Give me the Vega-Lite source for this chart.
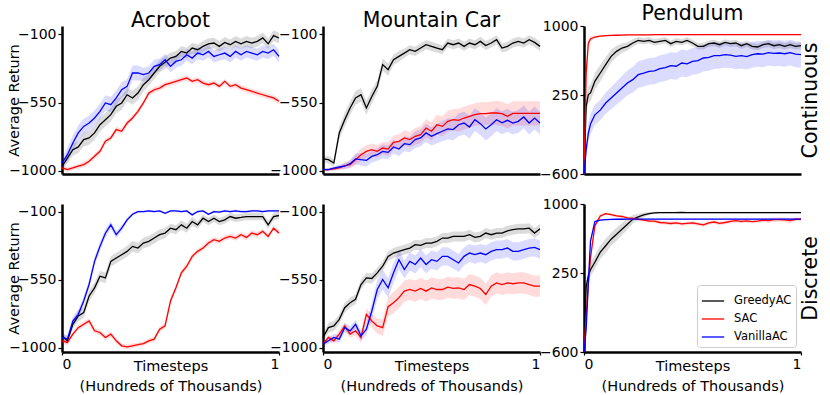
{
"$schema":"https://vega.github.io/schema/vega-lite/v6.json",
"padding":{"left":6,"top":3,"right":4,"bottom":4},
"columns":3,
"spacing":{"row":30,"column":44},
"bounds":"flush",
"resolve":{"scale":{"color":"independent"},"legend":{"color":"independent"}},
"config":{"view":{"stroke":null},"font":"DejaVu Sans",
 "axis":{"grid":false,"domainColor":"#000000","domainWidth":2.5,"tickColor":"#000000","tickWidth":1.2,"tickSize":4,"labelFontSize":14,"labelColor":"#000000","titleFontSize":14.5,"titleColor":"#000000","titleFontWeight":"normal","labelPadding":2,"labelExpr":"replace(datum.label,'-','\u2212')"},
 "title":{"fontSize":20.5,"fontWeight":"normal","offset":-5,"color":"#000000"},
 "line":{"strokeWidth":1.3}},
"datasets":{
"ac":[
{"x":0,"G":-969,"g":30,"S":-980,"s":15,"V":-948,"v":40},
{"x":0.025,"G":-915,"g":35,"S":-991,"s":15,"V":-893,"v":45},
{"x":0.05,"G":-860,"g":40,"S":-980,"s":15,"V":-816,"v":50},
{"x":0.075,"G":-842,"g":40,"S":-969,"s":15,"V":-750,"v":50},
{"x":0.1,"G":-794,"g":45,"S":-958,"s":18,"V":-707,"v":50},
{"x":0.125,"G":-783,"g":45,"S":-936,"s":18,"V":-685,"v":50},
{"x":0.15,"G":-750,"g":45,"S":-904,"s":18,"V":-652,"v":50},
{"x":0.175,"G":-696,"g":45,"S":-871,"s":18,"V":-608,"v":50},
{"x":0.2,"G":-663,"g":45,"S":-805,"s":18,"V":-553,"v":50},
{"x":0.225,"G":-630,"g":45,"S":-783,"s":18,"V":-564,"v":50},
{"x":0.25,"G":-575,"g":45,"S":-728,"s":18,"V":-520,"v":50},
{"x":0.275,"G":-553,"g":45,"S":-739,"s":18,"V":-466,"v":50},
{"x":0.3,"G":-499,"g":45,"S":-685,"s":18,"V":-444,"v":50},
{"x":0.325,"G":-520,"g":45,"S":-652,"s":18,"V":-356,"v":50},
{"x":0.35,"G":-488,"g":45,"S":-608,"s":18,"V":-356,"v":50},
{"x":0.375,"G":-433,"g":45,"S":-553,"s":18,"V":-367,"v":45},
{"x":0.4,"G":-400,"g":40,"S":-488,"s":18,"V":-356,"v":45},
{"x":0.425,"G":-356,"g":40,"S":-466,"s":18,"V":-312,"v":45},
{"x":0.45,"G":-312,"g":40,"S":-455,"s":18,"V":-301,"v":40},
{"x":0.475,"G":-286,"g":40,"S":-433,"s":18,"V":-269,"v":40},
{"x":0.5,"G":-258,"g":35,"S":-422,"s":18,"V":-312,"v":40},
{"x":0.525,"G":-247,"g":35,"S":-411,"s":18,"V":-280,"v":40},
{"x":0.55,"G":-214,"g":35,"S":-400,"s":18,"V":-269,"v":40},
{"x":0.575,"G":-225,"g":35,"S":-389,"s":18,"V":-236,"v":40},
{"x":0.6,"G":-192,"g":35,"S":-411,"s":18,"V":-258,"v":40},
{"x":0.625,"G":-203,"g":35,"S":-400,"s":18,"V":-225,"v":40},
{"x":0.65,"G":-181,"g":35,"S":-422,"s":18,"V":-236,"v":40},
{"x":0.675,"G":-164,"g":35,"S":-433,"s":18,"V":-214,"v":40},
{"x":0.7,"G":-159,"g":35,"S":-422,"s":18,"V":-247,"v":40},
{"x":0.725,"G":-181,"g":35,"S":-444,"s":18,"V":-236,"v":40},
{"x":0.75,"G":-155,"g":35,"S":-411,"s":18,"V":-225,"v":40},
{"x":0.775,"G":-170,"g":35,"S":-444,"s":18,"V":-247,"v":40},
{"x":0.8,"G":-148,"g":35,"S":-433,"s":18,"V":-214,"v":40},
{"x":0.825,"G":-164,"g":35,"S":-455,"s":18,"V":-236,"v":40},
{"x":0.85,"G":-148,"g":35,"S":-466,"s":18,"V":-214,"v":40},
{"x":0.875,"G":-159,"g":35,"S":-477,"s":18,"V":-225,"v":40},
{"x":0.9,"G":-148,"g":35,"S":-488,"s":18,"V":-236,"v":40},
{"x":0.925,"G":-125,"g":35,"S":-499,"s":18,"V":-214,"v":40},
{"x":0.95,"G":-164,"g":35,"S":-510,"s":18,"V":-225,"v":40},
{"x":0.975,"G":-110,"g":35,"S":-520,"s":18,"V":-203,"v":40},
{"x":1,"G":-126,"g":35,"S":-542,"s":18,"V":-247,"v":40}
],
"mc":[
{"x":0,"G":-921,"g":20,"S":-991,"s":10,"V":-991,"v":10},
{"x":0.025,"G":-926,"g":25,"S":-991,"s":10,"V":-991,"v":10},
{"x":0.05,"G":-948,"g":25,"S":-987,"s":12,"V":-982,"v":12},
{"x":0.075,"G":-750,"g":40,"S":-980,"s":15,"V":-974,"v":15},
{"x":0.1,"G":-663,"g":45,"S":-965,"s":20,"V":-969,"v":20},
{"x":0.125,"G":-586,"g":45,"S":-958,"s":25,"V":-952,"v":25},
{"x":0.15,"G":-520,"g":45,"S":-926,"s":35,"V":-921,"v":35},
{"x":0.175,"G":-499,"g":45,"S":-893,"s":40,"V":-926,"v":40},
{"x":0.2,"G":-586,"g":45,"S":-871,"s":40,"V":-930,"v":40},
{"x":0.225,"G":-510,"g":45,"S":-860,"s":40,"V":-904,"v":40},
{"x":0.25,"G":-444,"g":40,"S":-871,"s":40,"V":-893,"v":40},
{"x":0.275,"G":-301,"g":40,"S":-849,"s":40,"V":-871,"v":45},
{"x":0.3,"G":-334,"g":40,"S":-856,"s":45,"V":-878,"v":45},
{"x":0.325,"G":-269,"g":35,"S":-812,"s":45,"V":-842,"v":45},
{"x":0.35,"G":-247,"g":35,"S":-805,"s":45,"V":-856,"v":45},
{"x":0.375,"G":-225,"g":30,"S":-783,"s":50,"V":-821,"v":50},
{"x":0.4,"G":-203,"g":30,"S":-794,"s":50,"V":-827,"v":50},
{"x":0.425,"G":-214,"g":30,"S":-772,"s":55,"V":-794,"v":55},
{"x":0.45,"G":-192,"g":30,"S":-761,"s":55,"V":-783,"v":55},
{"x":0.475,"G":-170,"g":30,"S":-718,"s":60,"V":-750,"v":60},
{"x":0.5,"G":-181,"g":30,"S":-739,"s":60,"V":-772,"v":60},
{"x":0.525,"G":-192,"g":30,"S":-696,"s":65,"V":-755,"v":65},
{"x":0.55,"G":-203,"g":30,"S":-707,"s":65,"V":-739,"v":65},
{"x":0.575,"G":-159,"g":30,"S":-674,"s":70,"V":-724,"v":70},
{"x":0.6,"G":-170,"g":30,"S":-663,"s":70,"V":-728,"v":70},
{"x":0.625,"G":-159,"g":30,"S":-667,"s":75,"V":-696,"v":75},
{"x":0.65,"G":-181,"g":30,"S":-652,"s":75,"V":-685,"v":75},
{"x":0.675,"G":-159,"g":30,"S":-641,"s":75,"V":-711,"v":75},
{"x":0.7,"G":-170,"g":30,"S":-630,"s":75,"V":-663,"v":75},
{"x":0.725,"G":-148,"g":30,"S":-623,"s":75,"V":-689,"v":75},
{"x":0.75,"G":-175,"g":30,"S":-623,"s":75,"V":-724,"v":75},
{"x":0.775,"G":-159,"g":30,"S":-619,"s":75,"V":-696,"v":75},
{"x":0.8,"G":-137,"g":30,"S":-619,"s":80,"V":-663,"v":75},
{"x":0.825,"G":-192,"g":30,"S":-623,"s":80,"V":-683,"v":75},
{"x":0.85,"G":-181,"g":30,"S":-641,"s":80,"V":-667,"v":75},
{"x":0.875,"G":-159,"g":30,"S":-621,"s":80,"V":-685,"v":75},
{"x":0.9,"G":-148,"g":30,"S":-621,"s":80,"V":-674,"v":75},
{"x":0.925,"G":-159,"g":30,"S":-621,"s":80,"V":-645,"v":75},
{"x":0.95,"G":-137,"g":30,"S":-621,"s":80,"V":-685,"v":75},
{"x":0.975,"G":-155,"g":30,"S":-621,"s":80,"V":-652,"v":75},
{"x":1,"G":-181,"g":30,"S":-621,"s":80,"V":-685,"v":75}
],
"pc":[
{"x":0,"G":-600,"g":20,"S":-600,"s":20,"V":-600,"v":20},
{"x":0.01,"G":131,"g":90,"S":492,"s":60,"V":-337,"v":80},
{"x":0.02,"G":258,"g":90,"S":816,"s":40,"V":-157,"v":100},
{"x":0.03,"G":276,"g":90,"S":860,"s":30,"V":-60,"v":110},
{"x":0.05,"G":402,"g":90,"S":881,"s":15,"V":40,"v":110},
{"x":0.075,"G":492,"g":90,"S":890,"s":10,"V":90,"v":110},
{"x":0.1,"G":582,"g":80,"S":895,"s":10,"V":167,"v":115},
{"x":0.125,"G":672,"g":70,"S":898,"s":8,"V":221,"v":120},
{"x":0.15,"G":726,"g":60,"S":900,"s":8,"V":276,"v":125},
{"x":0.175,"G":762,"g":50,"S":902,"s":8,"V":330,"v":130},
{"x":0.2,"G":780,"g":45,"S":903,"s":8,"V":384,"v":135},
{"x":0.225,"G":816,"g":40,"S":904,"s":8,"V":420,"v":140},
{"x":0.25,"G":845,"g":35,"S":905,"s":8,"V":474,"v":145},
{"x":0.275,"G":834,"g":35,"S":905,"s":8,"V":490,"v":145},
{"x":0.3,"G":845,"g":35,"S":905,"s":8,"V":510,"v":145},
{"x":0.325,"G":823,"g":35,"S":906,"s":8,"V":515,"v":145},
{"x":0.35,"G":834,"g":35,"S":906,"s":8,"V":540,"v":145},
{"x":0.375,"G":845,"g":35,"S":906,"s":8,"V":550,"v":145},
{"x":0.4,"G":809,"g":35,"S":906,"s":8,"V":571,"v":145},
{"x":0.425,"G":834,"g":35,"S":906,"s":8,"V":565,"v":145},
{"x":0.45,"G":823,"g":35,"S":906,"s":8,"V":600,"v":145},
{"x":0.475,"G":845,"g":35,"S":906,"s":8,"V":590,"v":145},
{"x":0.5,"G":816,"g":35,"S":906,"s":8,"V":618,"v":145},
{"x":0.525,"G":780,"g":35,"S":906,"s":8,"V":625,"v":145},
{"x":0.55,"G":780,"g":35,"S":907,"s":8,"V":654,"v":145},
{"x":0.575,"G":809,"g":35,"S":907,"s":8,"V":660,"v":145},
{"x":0.6,"G":816,"g":35,"S":907,"s":8,"V":679,"v":145},
{"x":0.625,"G":798,"g":35,"S":907,"s":8,"V":680,"v":140},
{"x":0.65,"G":823,"g":35,"S":907,"s":8,"V":690,"v":140},
{"x":0.675,"G":809,"g":35,"S":907,"s":8,"V":685,"v":140},
{"x":0.7,"G":816,"g":35,"S":907,"s":8,"V":672,"v":140},
{"x":0.725,"G":787,"g":35,"S":907,"s":8,"V":680,"v":140},
{"x":0.75,"G":809,"g":35,"S":907,"s":8,"V":670,"v":140},
{"x":0.775,"G":780,"g":35,"S":907,"s":8,"V":690,"v":140},
{"x":0.8,"G":773,"g":35,"S":907,"s":8,"V":700,"v":140},
{"x":0.825,"G":798,"g":35,"S":907,"s":8,"V":695,"v":140},
{"x":0.85,"G":809,"g":35,"S":907,"s":8,"V":712,"v":140},
{"x":0.875,"G":787,"g":35,"S":907,"s":8,"V":705,"v":140},
{"x":0.9,"G":798,"g":35,"S":907,"s":8,"V":708,"v":140},
{"x":0.925,"G":780,"g":35,"S":907,"s":8,"V":700,"v":140},
{"x":0.95,"G":798,"g":35,"S":907,"s":8,"V":712,"v":140},
{"x":0.975,"G":780,"g":35,"S":907,"s":8,"V":695,"v":140},
{"x":1,"G":787,"g":35,"S":907,"s":8,"V":690,"v":140}
],
"ad":[
{"x":0,"G":-921,"g":20,"S":-954,"s":18,"V":-932,"v":25},
{"x":0.025,"G":-954,"g":25,"S":-965,"s":18,"V":-943,"v":25},
{"x":0.05,"G":-845,"g":30,"S":-910,"s":18,"V":-823,"v":30},
{"x":0.075,"G":-790,"g":35,"S":-867,"s":18,"V":-779,"v":30},
{"x":0.1,"G":-768,"g":35,"S":-845,"s":18,"V":-691,"v":30},
{"x":0.125,"G":-658,"g":35,"S":-823,"s":18,"V":-580,"v":30},
{"x":0.15,"G":-604,"g":35,"S":-888,"s":18,"V":-429,"v":30},
{"x":0.175,"G":-527,"g":35,"S":-899,"s":18,"V":-330,"v":30},
{"x":0.2,"G":-538,"g":35,"S":-932,"s":18,"V":-243,"v":30},
{"x":0.225,"G":-429,"g":35,"S":-910,"s":18,"V":-188,"v":25},
{"x":0.25,"G":-407,"g":35,"S":-954,"s":18,"V":-253,"v":25},
{"x":0.275,"G":-385,"g":35,"S":-987,"s":15,"V":-210,"v":20},
{"x":0.3,"G":-363,"g":35,"S":-994,"s":15,"V":-155,"v":15},
{"x":0.325,"G":-330,"g":35,"S":-987,"s":15,"V":-118,"v":10},
{"x":0.35,"G":-341,"g":35,"S":-980,"s":15,"V":-100,"v":8},
{"x":0.375,"G":-308,"g":35,"S":-972,"s":15,"V":-100,"v":8},
{"x":0.4,"G":-297,"g":35,"S":-954,"s":15,"V":-96,"v":8},
{"x":0.425,"G":-275,"g":35,"S":-943,"s":15,"V":-100,"v":8},
{"x":0.45,"G":-253,"g":35,"S":-877,"s":18,"V":-96,"v":8},
{"x":0.475,"G":-242,"g":35,"S":-855,"s":20,"V":-111,"v":8},
{"x":0.5,"G":-210,"g":30,"S":-691,"s":20,"V":-96,"v":8},
{"x":0.525,"G":-220,"g":30,"S":-604,"s":20,"V":-96,"v":8},
{"x":0.55,"G":-188,"g":30,"S":-505,"s":20,"V":-100,"v":8},
{"x":0.575,"G":-210,"g":30,"S":-461,"s":20,"V":-96,"v":8},
{"x":0.6,"G":-166,"g":30,"S":-396,"s":18,"V":-122,"v":8},
{"x":0.625,"G":-188,"g":25,"S":-363,"s":18,"V":-100,"v":8},
{"x":0.65,"G":-144,"g":25,"S":-341,"s":18,"V":-96,"v":8},
{"x":0.675,"G":-166,"g":25,"S":-308,"s":18,"V":-118,"v":8},
{"x":0.7,"G":-144,"g":25,"S":-286,"s":18,"V":-100,"v":8},
{"x":0.725,"G":-166,"g":25,"S":-297,"s":18,"V":-104,"v":8},
{"x":0.75,"G":-155,"g":25,"S":-275,"s":18,"V":-96,"v":8},
{"x":0.775,"G":-133,"g":25,"S":-264,"s":18,"V":-100,"v":8},
{"x":0.8,"G":-144,"g":25,"S":-275,"s":18,"V":-96,"v":8},
{"x":0.825,"G":-139,"g":25,"S":-253,"s":18,"V":-100,"v":8},
{"x":0.85,"G":-133,"g":25,"S":-271,"s":18,"V":-100,"v":8},
{"x":0.875,"G":-133,"g":25,"S":-242,"s":18,"V":-96,"v":8},
{"x":0.9,"G":-133,"g":25,"S":-253,"s":18,"V":-96,"v":8},
{"x":0.925,"G":-133,"g":25,"S":-231,"s":18,"V":-100,"v":8},
{"x":0.95,"G":-188,"g":25,"S":-264,"s":18,"V":-96,"v":8},
{"x":0.975,"G":-133,"g":25,"S":-210,"s":18,"V":-96,"v":8},
{"x":1,"G":-126,"g":25,"S":-242,"s":18,"V":-96,"v":8}
],
"md":[
{"x":0,"G":-932,"g":25,"S":-976,"s":15,"V":-976,"v":15},
{"x":0.025,"G":-867,"g":33,"S":-932,"s":20,"V":-954,"v":20},
{"x":0.05,"G":-856,"g":33,"S":-954,"s":20,"V":-932,"v":25},
{"x":0.075,"G":-812,"g":33,"S":-910,"s":25,"V":-943,"v":25},
{"x":0.1,"G":-735,"g":33,"S":-856,"s":25,"V":-867,"v":30},
{"x":0.125,"G":-702,"g":33,"S":-910,"s":25,"V":-888,"v":30},
{"x":0.15,"G":-680,"g":33,"S":-888,"s":30,"V":-845,"v":30},
{"x":0.175,"G":-582,"g":33,"S":-932,"s":35,"V":-921,"v":35},
{"x":0.2,"G":-538,"g":33,"S":-779,"s":40,"V":-877,"v":40},
{"x":0.225,"G":-542,"g":33,"S":-823,"s":45,"V":-757,"v":55},
{"x":0.25,"G":-505,"g":33,"S":-856,"s":50,"V":-615,"v":65},
{"x":0.275,"G":-461,"g":33,"S":-867,"s":55,"V":-549,"v":65},
{"x":0.3,"G":-396,"g":33,"S":-728,"s":65,"V":-604,"v":65},
{"x":0.325,"G":-374,"g":33,"S":-702,"s":70,"V":-505,"v":65},
{"x":0.35,"G":-363,"g":33,"S":-669,"s":70,"V":-418,"v":65},
{"x":0.375,"G":-352,"g":33,"S":-626,"s":70,"V":-483,"v":60},
{"x":0.4,"G":-341,"g":33,"S":-615,"s":70,"V":-429,"v":60},
{"x":0.425,"G":-319,"g":33,"S":-626,"s":70,"V":-450,"v":60},
{"x":0.45,"G":-323,"g":33,"S":-608,"s":70,"V":-407,"v":60},
{"x":0.475,"G":-308,"g":33,"S":-626,"s":70,"V":-450,"v":60},
{"x":0.5,"G":-308,"g":33,"S":-604,"s":70,"V":-418,"v":60},
{"x":0.525,"G":-297,"g":33,"S":-615,"s":70,"V":-429,"v":60},
{"x":0.55,"G":-275,"g":33,"S":-615,"s":70,"V":-396,"v":60},
{"x":0.575,"G":-275,"g":33,"S":-600,"s":70,"V":-396,"v":60},
{"x":0.6,"G":-264,"g":33,"S":-608,"s":70,"V":-418,"v":60},
{"x":0.625,"G":-264,"g":33,"S":-604,"s":70,"V":-440,"v":60},
{"x":0.65,"G":-264,"g":33,"S":-615,"s":70,"V":-396,"v":60},
{"x":0.675,"G":-253,"g":33,"S":-582,"s":70,"V":-374,"v":60},
{"x":0.7,"G":-271,"g":33,"S":-593,"s":70,"V":-385,"v":60},
{"x":0.725,"G":-264,"g":33,"S":-608,"s":70,"V":-374,"v":60},
{"x":0.75,"G":-242,"g":33,"S":-648,"s":70,"V":-385,"v":60},
{"x":0.775,"G":-253,"g":33,"S":-593,"s":70,"V":-363,"v":60},
{"x":0.8,"G":-242,"g":33,"S":-571,"s":70,"V":-352,"v":60},
{"x":0.825,"G":-242,"g":33,"S":-582,"s":70,"V":-352,"v":60},
{"x":0.85,"G":-227,"g":33,"S":-571,"s":70,"V":-341,"v":60},
{"x":0.875,"G":-220,"g":33,"S":-577,"s":70,"V":-363,"v":60},
{"x":0.9,"G":-214,"g":33,"S":-571,"s":70,"V":-363,"v":60},
{"x":0.925,"G":-214,"g":33,"S":-571,"s":70,"V":-352,"v":60},
{"x":0.95,"G":-210,"g":33,"S":-582,"s":70,"V":-341,"v":60},
{"x":0.975,"G":-242,"g":33,"S":-593,"s":70,"V":-337,"v":60},
{"x":1,"G":-214,"g":33,"S":-593,"s":70,"V":-352,"v":60}
],
"pd":[
{"x":0,"G":-600,"g":20,"S":-600,"s":20,"V":-600,"v":20},
{"x":0.01,"G":101,"g":60,"S":-200,"s":40,"V":-350,"v":30},
{"x":0.02,"G":227,"g":70,"S":137,"s":40,"V":150,"v":30},
{"x":0.03,"G":290,"g":70,"S":420,"s":40,"V":600,"v":20},
{"x":0.05,"G":370,"g":75,"S":764,"s":30,"V":810,"v":10},
{"x":0.075,"G":480,"g":75,"S":871,"s":20,"V":825,"v":10},
{"x":0.1,"G":549,"g":75,"S":896,"s":15,"V":830,"v":8},
{"x":0.125,"G":620,"g":70,"S":885,"s":15,"V":833,"v":8},
{"x":0.15,"G":674,"g":70,"S":871,"s":15,"V":835,"v":8},
{"x":0.175,"G":728,"g":65,"S":865,"s":15,"V":835,"v":8},
{"x":0.2,"G":782,"g":60,"S":850,"s":15,"V":836,"v":8},
{"x":0.225,"G":835,"g":45,"S":845,"s":15,"V":836,"v":8},
{"x":0.25,"G":860,"g":35,"S":835,"s":15,"V":836,"v":8},
{"x":0.275,"G":882,"g":25,"S":825,"s":15,"V":836,"v":8},
{"x":0.3,"G":896,"g":15,"S":815,"s":15,"V":836,"v":8},
{"x":0.325,"G":903,"g":12,"S":815,"s":20,"V":836,"v":8},
{"x":0.35,"G":907,"g":10,"S":800,"s":20,"V":836,"v":8},
{"x":0.375,"G":907,"g":10,"S":795,"s":20,"V":836,"v":8},
{"x":0.4,"G":906,"g":10,"S":789,"s":20,"V":836,"v":8},
{"x":0.425,"G":907,"g":10,"S":795,"s":20,"V":836,"v":8},
{"x":0.45,"G":908,"g":10,"S":785,"s":20,"V":836,"v":8},
{"x":0.475,"G":907,"g":10,"S":790,"s":20,"V":836,"v":8},
{"x":0.5,"G":907,"g":10,"S":795,"s":20,"V":836,"v":8},
{"x":0.525,"G":906,"g":10,"S":785,"s":20,"V":836,"v":8},
{"x":0.55,"G":907,"g":10,"S":774,"s":20,"V":836,"v":8},
{"x":0.575,"G":907,"g":10,"S":795,"s":20,"V":836,"v":8},
{"x":0.6,"G":907,"g":10,"S":805,"s":20,"V":836,"v":8},
{"x":0.625,"G":907,"g":10,"S":790,"s":20,"V":836,"v":8},
{"x":0.65,"G":907,"g":10,"S":800,"s":20,"V":836,"v":8},
{"x":0.675,"G":907,"g":10,"S":812,"s":20,"V":836,"v":8},
{"x":0.7,"G":906,"g":10,"S":820,"s":20,"V":836,"v":8},
{"x":0.725,"G":907,"g":10,"S":812,"s":20,"V":836,"v":8},
{"x":0.75,"G":907,"g":10,"S":818,"s":20,"V":836,"v":8},
{"x":0.775,"G":906,"g":10,"S":810,"s":20,"V":836,"v":8},
{"x":0.8,"G":906,"g":10,"S":815,"s":20,"V":836,"v":8},
{"x":0.825,"G":906,"g":10,"S":825,"s":20,"V":836,"v":8},
{"x":0.85,"G":906,"g":10,"S":820,"s":25,"V":836,"v":8},
{"x":0.875,"G":906,"g":10,"S":830,"s":25,"V":836,"v":8},
{"x":0.9,"G":906,"g":10,"S":832,"s":25,"V":836,"v":8},
{"x":0.925,"G":906,"g":10,"S":828,"s":25,"V":836,"v":8},
{"x":0.95,"G":906,"g":10,"S":820,"s":30,"V":836,"v":8},
{"x":0.975,"G":906,"g":10,"S":835,"s":20,"V":836,"v":8},
{"x":1,"G":906,"g":10,"S":835,"s":20,"V":836,"v":8}
]
},
"concat":[
{"width":217,"height":148,"title":"Acrobot","data":{"name":"ac"},
 "encoding":{"x":{"field":"x","type":"quantitative","scale":{"domain":[0,1],"nice":false},"axis":{"labels":false,"ticks":false,"title":null}}},
 "layer":[
  {"mark":{"type":"errorband","color":"#000000","opacity":0.14},"encoding":{"y":{"field":"G","type":"quantitative","title":"Average Return","scale":{"domain":[-1020,-47],"nice":false,"zero":false},"axis":{"values":[-1000,-550,-100],"format":"d","titlePadding":-13}},"yError":{"field":"g"}}},
  {"mark":{"type":"errorband","color":"#ff0000","opacity":0.14},"encoding":{"y":{"field":"S","type":"quantitative","title":"Average Return","scale":{"domain":[-1020,-47],"nice":false,"zero":false}},"yError":{"field":"s"}}},
  {"mark":{"type":"errorband","color":"#0000ff","opacity":0.14},"encoding":{"y":{"field":"V","type":"quantitative","title":"Average Return","scale":{"domain":[-1020,-47],"nice":false,"zero":false}},"yError":{"field":"v"}}},
  {"mark":{"type":"line","color":"#000000"},"encoding":{"y":{"field":"G","type":"quantitative","title":"Average Return","scale":{"domain":[-1020,-47],"nice":false,"zero":false}}}},
  {"mark":{"type":"line","color":"#ff0000"},"encoding":{"y":{"field":"S","type":"quantitative","title":"Average Return","scale":{"domain":[-1020,-47],"nice":false,"zero":false}}}},
  {"mark":{"type":"line","color":"#0000ff"},"encoding":{"y":{"field":"V","type":"quantitative","title":"Average Return","scale":{"domain":[-1020,-47],"nice":false,"zero":false}}}}
 ]},
{"width":217,"height":148,"title":"Mountain Car","data":{"name":"mc"},
 "encoding":{"x":{"field":"x","type":"quantitative","scale":{"domain":[0,1],"nice":false},"axis":{"labels":false,"ticks":false,"title":null}}},
 "layer":[
  {"mark":{"type":"errorband","color":"#000000","opacity":0.14},"encoding":{"y":{"field":"G","type":"quantitative","scale":{"domain":[-1020,-47],"nice":false,"zero":false},"axis":{"values":[-1000,-550,-100],"format":"d","title":null}},"yError":{"field":"g"}}},
  {"mark":{"type":"errorband","color":"#ff0000","opacity":0.14},"encoding":{"y":{"field":"S","type":"quantitative","scale":{"domain":[-1020,-47],"nice":false,"zero":false}},"yError":{"field":"s"}}},
  {"mark":{"type":"errorband","color":"#0000ff","opacity":0.14},"encoding":{"y":{"field":"V","type":"quantitative","scale":{"domain":[-1020,-47],"nice":false,"zero":false}},"yError":{"field":"v"}}},
  {"mark":{"type":"line","color":"#000000"},"encoding":{"y":{"field":"G","type":"quantitative","scale":{"domain":[-1020,-47],"nice":false,"zero":false}}}},
  {"mark":{"type":"line","color":"#ff0000"},"encoding":{"y":{"field":"S","type":"quantitative","scale":{"domain":[-1020,-47],"nice":false,"zero":false}}}},
  {"mark":{"type":"line","color":"#0000ff"},"encoding":{"y":{"field":"V","type":"quantitative","scale":{"domain":[-1020,-47],"nice":false,"zero":false}}}}
 ]},
{"width":217,"height":148,"title":"Pendulum","data":{"name":"pc"},
 "resolve":{"axis":{"y":"independent"}},
 "encoding":{"x":{"field":"x","type":"quantitative","scale":{"domain":[0,1],"nice":false},"axis":{"labels":false,"ticks":false,"title":null}}},
 "layer":[
  {"mark":{"type":"errorband","color":"#000000","opacity":0.14},"encoding":{"y":{"field":"G","type":"quantitative","scale":{"domain":[-600,1000],"nice":false,"zero":false},"axis":{"values":[-600,250,1000],"format":"d","title":null}},"yError":{"field":"g"}}},
  {"mark":{"type":"errorband","color":"#ff0000","opacity":0.14},"encoding":{"y":{"field":"S","type":"quantitative","scale":{"domain":[-600,1000],"nice":false,"zero":false},"axis":null},"yError":{"field":"s"}}},
  {"mark":{"type":"errorband","color":"#0000ff","opacity":0.14},"encoding":{"y":{"field":"V","type":"quantitative","scale":{"domain":[-600,1000],"nice":false,"zero":false},"axis":null},"yError":{"field":"v"}}},
  {"mark":{"type":"line","color":"#000000"},"encoding":{"y":{"field":"G","type":"quantitative","scale":{"domain":[-600,1000],"nice":false,"zero":false},"axis":null}}},
  {"mark":{"type":"line","color":"#ff0000"},"encoding":{"y":{"field":"S","type":"quantitative","scale":{"domain":[-600,1000],"nice":false,"zero":false},"axis":null}}},
  {"mark":{"type":"line","color":"#0000ff"},"encoding":{"y":{"field":"V","type":"quantitative","scale":{"domain":[-600,1000],"nice":false,"zero":false},"axis":{"orient":"right","title":"Continuous","labels":false,"ticks":false,"domain":false,"titleFontSize":20.5,"titleAngle":270,"titleBaseline":"top","titlePadding":-1}}}}
 ]},
{"width":217,"height":148,"data":{"name":"ad"},
 "encoding":{"x":{"field":"x","type":"quantitative","scale":{"domain":[0,1],"nice":false},"axis":{"values":[0,1],"format":"d","tickSize":3,"title":["Timesteps","(Hundreds of Thousands)"],"titlePadding":-12,"titleLineHeight":20}}},
 "layer":[
  {"mark":{"type":"errorband","color":"#000000","opacity":0.14},"encoding":{"y":{"field":"G","type":"quantitative","title":"Average Return","scale":{"domain":[-1028,-50],"nice":false,"zero":false},"axis":{"values":[-1000,-550,-100],"format":"d","titlePadding":-13}},"yError":{"field":"g"}}},
  {"mark":{"type":"errorband","color":"#ff0000","opacity":0.14},"encoding":{"y":{"field":"S","type":"quantitative","title":"Average Return","scale":{"domain":[-1028,-50],"nice":false,"zero":false}},"yError":{"field":"s"}}},
  {"mark":{"type":"errorband","color":"#0000ff","opacity":0.14},"encoding":{"y":{"field":"V","type":"quantitative","title":"Average Return","scale":{"domain":[-1028,-50],"nice":false,"zero":false}},"yError":{"field":"v"}}},
  {"mark":{"type":"line","color":"#000000"},"encoding":{"y":{"field":"G","type":"quantitative","title":"Average Return","scale":{"domain":[-1028,-50],"nice":false,"zero":false}}}},
  {"mark":{"type":"line","color":"#ff0000"},"encoding":{"y":{"field":"S","type":"quantitative","title":"Average Return","scale":{"domain":[-1028,-50],"nice":false,"zero":false}}}},
  {"mark":{"type":"line","color":"#0000ff"},"encoding":{"y":{"field":"V","type":"quantitative","title":"Average Return","scale":{"domain":[-1028,-50],"nice":false,"zero":false}}}}
 ]},
{"width":217,"height":148,"data":{"name":"md"},
 "encoding":{"x":{"field":"x","type":"quantitative","scale":{"domain":[0,1],"nice":false},"axis":{"values":[0,1],"format":"d","tickSize":3,"title":["Timesteps","(Hundreds of Thousands)"],"titlePadding":-12,"titleLineHeight":20}}},
 "layer":[
  {"mark":{"type":"errorband","color":"#000000","opacity":0.14},"encoding":{"y":{"field":"G","type":"quantitative","scale":{"domain":[-1028,-50],"nice":false,"zero":false},"axis":{"values":[-1000,-550,-100],"format":"d","title":null}},"yError":{"field":"g"}}},
  {"mark":{"type":"errorband","color":"#ff0000","opacity":0.14},"encoding":{"y":{"field":"S","type":"quantitative","scale":{"domain":[-1028,-50],"nice":false,"zero":false}},"yError":{"field":"s"}}},
  {"mark":{"type":"errorband","color":"#0000ff","opacity":0.14},"encoding":{"y":{"field":"V","type":"quantitative","scale":{"domain":[-1028,-50],"nice":false,"zero":false}},"yError":{"field":"v"}}},
  {"mark":{"type":"line","color":"#000000"},"encoding":{"y":{"field":"G","type":"quantitative","scale":{"domain":[-1028,-50],"nice":false,"zero":false}}}},
  {"mark":{"type":"line","color":"#ff0000"},"encoding":{"y":{"field":"S","type":"quantitative","scale":{"domain":[-1028,-50],"nice":false,"zero":false}}}},
  {"mark":{"type":"line","color":"#0000ff"},"encoding":{"y":{"field":"V","type":"quantitative","scale":{"domain":[-1028,-50],"nice":false,"zero":false}}}}
 ]},
{"width":217,"height":148,"data":{"name":"pd"},
 "resolve":{"axis":{"y":"independent"}},
 "encoding":{"x":{"field":"x","type":"quantitative","scale":{"domain":[0,1],"nice":false},"axis":{"values":[0,1],"format":"d","tickSize":3,"title":["Timesteps","(Hundreds of Thousands)"],"titlePadding":-12,"titleLineHeight":20}}},
 "layer":[
  {"mark":{"type":"errorband","color":"#000000","opacity":0.14},"encoding":{"y":{"field":"G","type":"quantitative","scale":{"domain":[-600,1000],"nice":false,"zero":false},"axis":{"values":[-600,250,1000],"format":"d","title":null}},"yError":{"field":"g"}}},
  {"mark":{"type":"errorband","color":"#ff0000","opacity":0.14},"encoding":{"y":{"field":"S","type":"quantitative","scale":{"domain":[-600,1000],"nice":false,"zero":false},"axis":null},"yError":{"field":"s"}}},
  {"mark":{"type":"errorband","color":"#0000ff","opacity":0.14},"encoding":{"y":{"field":"V","type":"quantitative","scale":{"domain":[-600,1000],"nice":false,"zero":false},"axis":null},"yError":{"field":"v"}}},
  {"mark":{"type":"line"},"encoding":{"y":{"field":"G","type":"quantitative","scale":{"domain":[-600,1000],"nice":false,"zero":false},"axis":null},"color":{"datum":"GreedyAC","scale":{"domain":["GreedyAC","SAC","VanillaAC"],"range":["#000000","#ff0000","#0000ff"]},"legend":{"orient":"bottom-right","offset":5,"title":null,"fillColor":"#ffffff","strokeColor":"#cccccc","cornerRadius":3,"padding":4,"symbolType":"stroke","symbolSize":500,"symbolStrokeWidth":1.5,"labelFontSize":11.5,"labelOffset":9,"rowPadding":-1}}}},
  {"mark":{"type":"line"},"encoding":{"y":{"field":"S","type":"quantitative","scale":{"domain":[-600,1000],"nice":false,"zero":false},"axis":null},"color":{"datum":"SAC"}}},
  {"mark":{"type":"line"},"encoding":{"y":{"field":"V","type":"quantitative","scale":{"domain":[-600,1000],"nice":false,"zero":false},"axis":{"orient":"right","title":"Discrete","labels":false,"ticks":false,"domain":false,"titleFontSize":20.5,"titleAngle":270,"titleBaseline":"top","titlePadding":-1}},"color":{"datum":"VanillaAC"}}}
 ]}
]
}
